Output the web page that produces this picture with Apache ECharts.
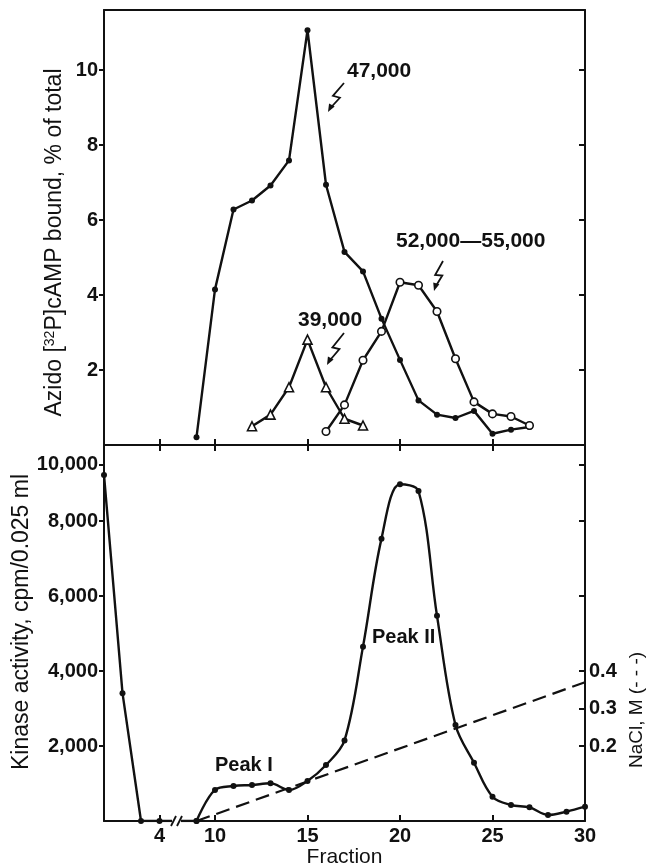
<!DOCTYPE html>
<html>
<head>
<meta charset="utf-8">
<script src="https://cdn.jsdelivr.net/npm/echarts@6/dist/echarts.min.js"></script>
<style>
html, body { margin: 0; padding: 0; background: #fff; }
#main { width: 646px; height: 867px; }
</style>
</head>
<body>
<div id="main"></div>
<script>
// top panel: azido-[32P]cAMP bound, % of total
var frac47 = [9, 10, 11, 12, 13, 14, 15, 16, 17, 18, 19, 20, 21, 22, 23, 24, 25, 26, 27];
var val47 = [0.21, 4.15, 6.28, 6.52, 6.92, 7.59, 11.06, 6.94, 5.15, 4.63, 3.37, 2.27, 1.19, 0.81, 0.72, 0.91, 0.30, 0.41, 0.48];
var frac39 = [12, 13, 14, 15, 16, 17, 18];
var val39 = [0.50, 0.81, 1.54, 2.81, 1.54, 0.70, 0.52];
var frac52 = [16, 17, 18, 19, 20, 21, 22, 23, 24, 25, 26, 27];
var val52 = [0.36, 1.07, 2.26, 3.03, 4.34, 4.26, 3.56, 2.30, 1.15, 0.83, 0.76, 0.52];

// bottom panel: kinase activity (cpm/0.025 ml) and NaCl gradient (M)
var fracKinA = [1, 2, 3, 4, 9];
var kinA = [9230, 3410, 0, 0, 0];
var fracKinB = [9, 10, 11, 12, 13, 14, 15, 16, 17, 18, 19, 20, 21, 22, 23, 24, 25, 26, 27, 28, 29, 30];
var kinB = [0, 830, 933, 960, 1005, 827, 1067, 1493, 2150, 4650, 7530, 8980, 8800, 5475, 2560, 1555, 648, 427, 365, 160, 250, 381];
var fracNaCl = [9, 30];
var nacl = [0, 0.37];

// tick labels
var fracTicks = [4, 10, 15, 20, 25, 30];
var azidoTicks = [2, 4, 6, 8, 10];
var kinaseTicks = [2000, 4000, 6000, 8000, 9500];
var kinaseTickText = ['2,000', '4,000', '6,000', '8,000', '10,000'];
var naclTicks = [0.2, 0.3, 0.4];

// the fraction axis is broken between 5 and 8
function pos(f) { return f <= 5 ? f : f - 3; }
function unpos(p) { return p <= 5 ? p : p + 3; }
function pairs(xs, ys) { return xs.map(function (x, i) { return [pos(x), ys[i]]; }); }

var ink = '#111';
var fontFam = '"Liberation Sans", Arial, Helvetica, sans-serif';
var axLine = { show: true, onZero: false, lineStyle: { color: ink, width: 2 } };
var tickLbl = { color: ink, fontSize: 20, fontWeight: 'bold', fontFamily: fontFam };

var myChart = echarts.init(document.getElementById('main'));

function bolt(x0, y0, x1, y1) {
    var dx = x1 - x0, dy = y1 - y0, L = Math.sqrt(dx * dx + dy * dy);
    var ux = dx / L, uy = dy / L, nx = -uy, ny = ux;
    return [
        { type: 'polyline', z: 50, shape: { points: [
            [x0, y0],
            [x0 + dx * 0.5 + nx * 3.5, y0 + dy * 0.5 + ny * 3.5],
            [x0 + dx * 0.45 - nx * 3.5, y0 + dy * 0.45 - ny * 3.5],
            [x1 - ux * 4, y1 - uy * 4]] },
          style: { stroke: ink, lineWidth: 1.8, fill: null } },
        { type: 'polygon', z: 50, shape: { points: [
            [x1, y1],
            [x1 - ux * 8 + nx * 3.2, y1 - uy * 8 + ny * 3.2],
            [x1 - ux * 8 - nx * 3.2, y1 - uy * 8 - ny * 3.2]] },
          style: { fill: ink } }
    ];
}

function note(x, y, s, size) {
    return { type: 'text', x: x, y: y, z: 50,
        style: { text: s, fill: ink, fontSize: size, fontWeight: 'bold', fontFamily: fontFam, verticalAlign: 'middle' } };
}

var graphics = [
    note(347, 71, '47,000', 21),
    note(298, 320, '39,000', 21),
    note(396, 241, '52,000\u201455,000', 21),
    note(215, 765, 'Peak I', 20),
    note(372, 637, 'Peak II', 20),
    // break on the fraction axis
    { type: 'rect', z: 60, shape: { x: 172, y: 814, width: 9, height: 12 }, style: { fill: '#fff' } },
    { type: 'line', z: 61, shape: { x1: 171, y1: 826, x2: 176, y2: 816 }, style: { stroke: ink, lineWidth: 1.8 } },
    { type: 'line', z: 61, shape: { x1: 177, y1: 826, x2: 182, y2: 816 }, style: { stroke: ink, lineWidth: 1.8 } },
    // right axis title
    { type: 'text', x: 637, y: 710, rotation: Math.PI / 2, z: 50,
      style: { text: 'NaCl, M (- - -)', fill: ink, fontSize: 19, fontFamily: fontFam, align: 'center', verticalAlign: 'middle' } }
].concat(bolt(344, 83, 328, 112), bolt(344, 333, 327, 365), bolt(443, 261, 434, 291));

var option = {
    animation: false,
    backgroundColor: '#fff',
    grid: [
        { left: 104, right: 61, top: 10, height: 435, outerBoundsMode: 'none' },
        { left: 104, right: 61, top: 445, height: 376, outerBoundsMode: 'none' }
    ],
    xAxis: [
        { gridIndex: 0, type: 'value', min: 1, max: 27, position: 'bottom', axisLine: axLine,
          axisTick: { inside: true, length: 6, lineStyle: { color: ink, width: 2 }, customValues: fracTicks.slice(0, 5).map(pos) },
          axisLabel: { show: false }, splitLine: { show: false } },
        { gridIndex: 0, type: 'value', min: 1, max: 27, position: 'top', axisLine: axLine,
          axisTick: { show: false }, axisLabel: { show: false }, splitLine: { show: false } },
        { gridIndex: 1, type: 'value', min: 1, max: 27, position: 'bottom', axisLine: axLine,
          axisTick: { inside: true, length: 6, lineStyle: { color: ink, width: 2 }, customValues: fracTicks.map(pos) },
          axisLabel: Object.assign({ margin: 5, customValues: fracTicks.map(pos),
              formatter: function (v) { return String(unpos(v)); } }, tickLbl),
          splitLine: { show: false },
          name: 'Fraction', nameLocation: 'middle', nameGap: 26, nameMoveOverlap: false,
          nameTextStyle: { color: ink, fontSize: 21, fontFamily: fontFam } },
        { gridIndex: 1, type: 'value', min: 1, max: 27, position: 'top', axisLine: axLine,
          axisTick: { inside: true, length: 6, lineStyle: { color: ink, width: 2 }, customValues: fracTicks.slice(0, 5).map(pos) },
          axisLabel: { show: false }, splitLine: { show: false } }
    ],
    yAxis: [
        { gridIndex: 0, type: 'value', min: 0, max: 11.6, position: 'left', axisLine: axLine,
          axisTick: { length: 5, lineStyle: { color: ink, width: 2 }, customValues: azidoTicks },
          axisLabel: Object.assign({ margin: 6, customValues: azidoTicks }, tickLbl),
          splitLine: { show: false },
          name: 'Azido [{sup|32}P]cAMP bound, % of total', nameLocation: 'middle', nameGap: 38, nameMoveOverlap: false,
          nameTextStyle: { color: ink, fontSize: 23, fontFamily: fontFam, padding: [0, 30, 0, 0],
              rich: { sup: { fontSize: 14, fontFamily: fontFam, color: ink, verticalAlign: 'top', padding: [0, 0, 9, 0] } } } },
        { gridIndex: 0, type: 'value', min: 0, max: 11.6, position: 'right', axisLine: axLine,
          axisTick: { inside: true, length: 6, lineStyle: { color: ink, width: 2 }, customValues: azidoTicks },
          axisLabel: { show: false }, splitLine: { show: false } },
        { gridIndex: 1, type: 'value', min: 0, max: 10027, position: 'left', axisLine: axLine,
          axisTick: { length: 5, lineStyle: { color: ink, width: 2 }, customValues: kinaseTicks },
          axisLabel: Object.assign({ margin: 6, customValues: kinaseTicks,
              formatter: function (v) { return kinaseTickText[kinaseTicks.indexOf(v)]; } }, tickLbl),
          splitLine: { show: false },
          name: 'Kinase activity, cpm/0.025 ml', nameLocation: 'middle', nameGap: 71, nameMoveOverlap: false,
          nameTextStyle: { color: ink, fontSize: 23, fontFamily: fontFam, padding: [0, 0, 0, 22] } },
        { gridIndex: 1, type: 'value', min: 0, max: 10027, position: 'right', axisLine: { show: false },
          axisTick: { inside: true, length: 6, lineStyle: { color: ink, width: 2 }, customValues: kinaseTicks },
          axisLabel: { show: false }, splitLine: { show: false } },
        { gridIndex: 1, type: 'value', min: 0, max: 1.0027, position: 'right', axisLine: axLine,
          axisTick: { inside: true, length: 6, lineStyle: { color: ink, width: 2 }, customValues: naclTicks },
          axisLabel: Object.assign({ margin: 4, customValues: naclTicks,
              formatter: function (v) { return v.toFixed(1); } }, tickLbl),
          splitLine: { show: false } }
    ],
    series: [
        { name: '47,000', type: 'line', xAxisIndex: 0, yAxisIndex: 0, data: pairs(frac47, val47),
          symbol: 'circle', symbolSize: 6, itemStyle: { color: ink },
          lineStyle: { color: ink, width: 2.4 }, emphasis: { disabled: true } },
        { name: '39,000', type: 'line', xAxisIndex: 0, yAxisIndex: 0, data: pairs(frac39, val39),
          symbol: 'triangle', symbolSize: 9, itemStyle: { color: '#fff', borderColor: ink, borderWidth: 1.6 },
          lineStyle: { color: ink, width: 2.4 }, emphasis: { disabled: true } },
        { name: '52,000-55,000', type: 'line', xAxisIndex: 0, yAxisIndex: 0, data: pairs(frac52, val52),
          symbol: 'circle', symbolSize: 7.5, itemStyle: { color: '#fff', borderColor: ink, borderWidth: 1.6 },
          lineStyle: { color: ink, width: 2.4 }, emphasis: { disabled: true } },
        { name: 'NaCl', type: 'line', xAxisIndex: 2, yAxisIndex: 4, data: pairs(fracNaCl, nacl),
          symbol: 'none', lineStyle: { color: ink, width: 2.2, type: [14, 7] }, emphasis: { disabled: true } },
        { name: 'kinase', type: 'line', xAxisIndex: 2, yAxisIndex: 2, data: pairs(fracKinA, kinA),
          symbol: 'circle', symbolSize: 6, itemStyle: { color: ink },
          lineStyle: { color: ink, width: 2.4 }, emphasis: { disabled: true } },
        { name: 'kinase', type: 'line', xAxisIndex: 2, yAxisIndex: 2, data: pairs(fracKinB, kinB),
          smooth: 0.35, symbol: 'circle', symbolSize: 6, itemStyle: { color: ink },
          lineStyle: { color: ink, width: 2.4 }, emphasis: { disabled: true } }
    ],
    graphic: graphics
};

myChart.setOption(option);
</script>
</body>
</html>
